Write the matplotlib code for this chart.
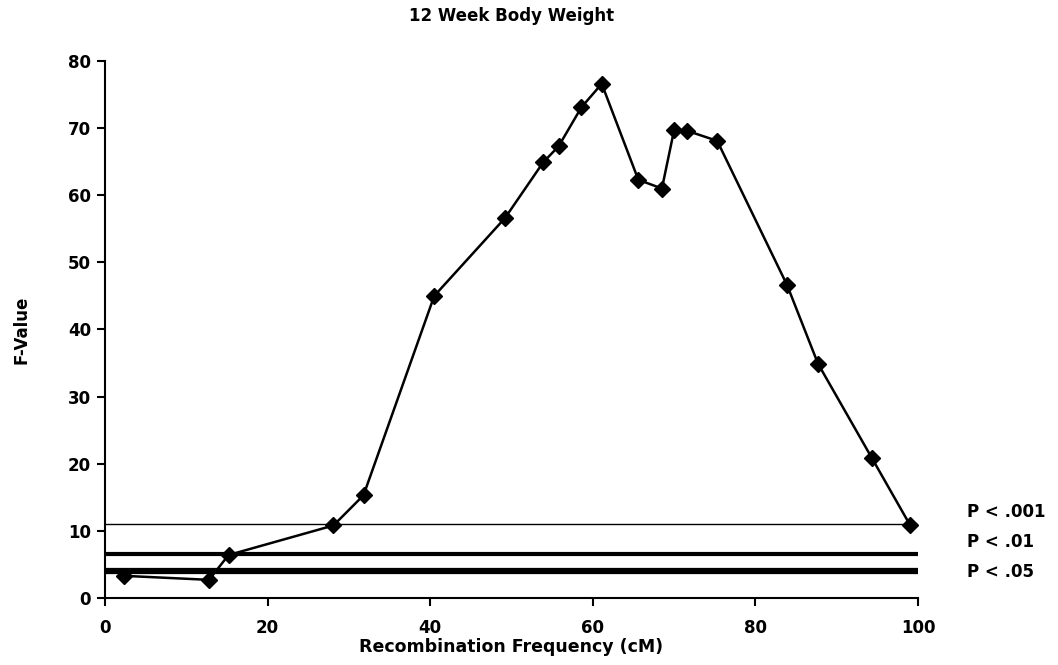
import numpy as np
import matplotlib.pyplot as plt

plt.rcParams['font.family'] = ['DejaVu Sans']
plt.rcParams['font.weight'] = 'bold'

# marker positions along the chromosome (cM) and F statistics
cm = [2.3, 12.8, 15.2, 28.1, 31.8, 40.5, 49.2, 53.9, 55.8, 58.6, 61.1,
      65.6, 68.5, 70.0, 71.6, 75.3, 83.9, 87.7, 94.3, 99.0]
f_value = [3.3, 2.7, 6.4, 10.8, 15.3, 45.0, 56.6, 64.9, 67.3, 73.1, 76.6,
           62.3, 61.0, 69.7, 69.6, 68.1, 46.6, 34.9, 20.9, 10.9]

# significance thresholds
thresh_labels = ['P < .001', 'P < .01', 'P < .05']
thresh_values = [11.0, 6.5, 4.0]
thresh_widths = [1.0, 3.0, 4.5]

fig = plt.figure(figsize=(10.58, 6.65), dpi=100)
ax = fig.add_axes([0.0992, 0.1008, 0.7685, 0.8075])

for val, lw in zip(thresh_values, thresh_widths):
    ax.plot([0, 100], [val, val], color='black', lw=lw, solid_capstyle='butt')

ax.plot(cm, f_value, color='black', lw=1.8, marker='D', markersize=8.5,
        markerfacecolor='black', markeredgecolor='black', zorder=3)

label_y = [12.8, 8.4, 3.9]
for lab, yy in zip(thresh_labels, label_y):
    ax.text(106.0, yy, lab, fontsize=12, fontweight='bold', va='center',
            ha='left', clip_on=False)

ax.set_xlim(0, 100)
ax.set_ylim(0, 80)
ax.set_xticks(np.arange(0, 101, 20))
ax.set_yticks(np.arange(0, 81, 10))
ax.spines['top'].set_visible(False)
ax.spines['right'].set_visible(False)
ax.spines['left'].set_linewidth(1.5)
ax.spines['bottom'].set_linewidth(1.5)
ax.tick_params(direction='out', length=6, width=1.5, labelsize=12)
ax.tick_params(axis='x', pad=9)
ax.tick_params(axis='y', pad=4)
for t in ax.get_xticklabels() + ax.get_yticklabels():
    t.set_fontweight('bold')

ax.set_title('12 Week Body Weight', fontsize=12, fontweight='bold', pad=29)
ax.set_xlabel('Recombination Frequency (cM)', fontsize=12.5, fontweight='bold',
              labelpad=1)
ax.set_ylabel('F-Value', fontsize=12, fontweight='bold', labelpad=27)

fig.savefig('out.png', dpi=100)
